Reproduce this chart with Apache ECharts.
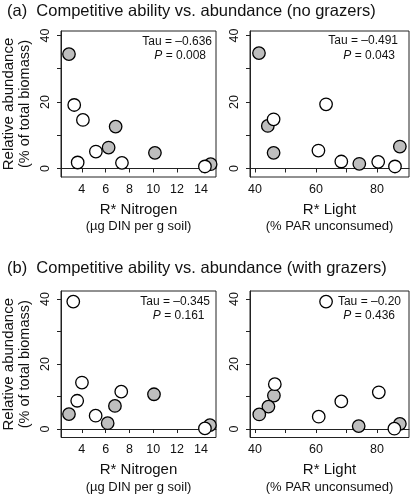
<!DOCTYPE html>
<html>
<head>
<meta charset="utf-8">
<script src="https://cdn.jsdelivr.net/npm/echarts@6/dist/echarts.min.js"></script>
<style>
html,body{margin:0;padding:0;background:#fff;}
#c{width:410px;height:498px;}
</style>
</head>
<body>
<div id="c"></div>
<script>
// ---- Data ----
// Panel (a): no grazers
const aNitroWhiteX = [3.36, 4.09, 5.18, 3.65, 7.37, 14.34];
const aNitroWhiteY = [19.1, 14.6, 5.1, 1.8, 1.7, 0.6];
const aNitroGreyX  = [2.92, 6.84, 6.25, 10.14, 14.82];
const aNitroGreyY  = [34.4, 12.6, 6.3, 4.7, 1.3];
const aLightWhiteX = [63.3, 46.1, 60.8, 68.3, 80.4, 85.9];
const aLightWhiteY = [19.3, 14.8, 5.4, 2.1, 2.0, 0.6];
const aLightGreyX  = [41.3, 44.2, 46.1, 74.2, 87.5];
const aLightGreyY  = [34.7, 12.8, 4.7, 1.4, 6.6];
// Panel (b): with grazers
const bNitroWhiteX = [3.28, 4.01, 3.61, 7.31, 5.16, 14.34];
const bNitroWhiteY = [39.2, 14.3, 8.7, 11.5, 4.1, 0.2];
const bNitroGreyX  = [2.92, 6.78, 6.17, 10.06, 14.76];
const bNitroGreyY  = [4.6, 7.1, 1.8, 10.7, 1.2];
const bLightWhiteX = [63.3, 46.5, 68.3, 80.6, 60.9, 85.7];
const bLightWhiteY = [39.2, 13.8, 8.5, 11.3, 3.8, 0.1];
const bLightGreyX  = [46.2, 44.4, 41.4, 74.0, 87.5];
const bLightGreyY  = [10.3, 6.9, 4.5, 0.9, 1.6];

const nitroTicks = [4, 6, 8, 10, 12, 14];
const lightTicks = [40, 50, 60, 70, 80];
const lightLabels = [40, 60, 80];
const yTicks = [0, 10, 20, 30, 40];
const yLabels = [0, 20, 40];

const titleA = '(a)  Competitive ability vs. abundance (no grazers)';
const titleB = '(b)  Competitive ability vs. abundance (with grazers)';
const stats = [
  ['–0.636', '0.008'],
  ['–0.491', '0.043'],
  ['–0.345', '0.161'],
  ['–0.20', '0.436']
];

const FONT = '"Liberation Sans", Arial, Helvetica, sans-serif';
const INK = '#111';

function zip(xs, ys) { return xs.map((x, i) => [x, ys[i]]); }

const grids = [
  {left: 61, top: 31, width: 155, height: 146},
  {left: 250, top: 31, width: 159, height: 146},
  {left: 61, top: 291, width: 155, height: 146.5},
  {left: 250, top: 291, width: 159, height: 146.5}
].map(g => Object.assign(g, {show: true, borderColor: '#222', borderWidth: 1, backgroundColor: 'transparent'}));

function xAxis(gi, isNitro) {
  return {
    type: 'value', gridIndex: gi,
    min: isNitro ? 2.25 : 38.36,
    max: isNitro ? 15.27 : 90.5,
    splitLine: {show: false},
    axisLine: {show: true, lineStyle: {color: '#222', width: 1}},
    axisTick: {show: true, length: 4, lineStyle: {color: '#222'},
      customValues: isNitro ? nitroTicks : lightTicks},
    axisLabel: {fontFamily: FONT, fontSize: 12.5, color: INK, margin: 6,
      customValues: isNitro ? nitroTicks : lightLabels},
    name: isNitro ? '{a|R* Nitrogen}\n{b|(µg DIN per g soil)}' : '{a|R* Light}\n{b|(% PAR unconsumed)}',
    nameLocation: 'middle',
    nameGap: 24,
    nameTextStyle: {
      rich: {
        a: {fontFamily: FONT, fontSize: 15, color: INK, lineHeight: 17},
        b: {fontFamily: FONT, fontSize: 13, color: INK, lineHeight: 17}
      }
    }
  };
}

function yAxis(gi, top, withName) {
  const ax = {
    type: 'value', gridIndex: gi,
    min: top ? -2.56 : -2.6,
    max: top ? 41.35 : 42.46,
    splitLine: {show: false},
    axisLine: {show: true, lineStyle: {color: '#222', width: 1}},
    axisTick: {show: true, length: 4, lineStyle: {color: '#222'}, customValues: yTicks},
    axisLabel: {fontFamily: FONT, fontSize: 12.5, color: INK, rotate: 90, margin: 9,
      customValues: yLabels}
  };
  if (withName) {
    ax.name = '{a|Relative abundance}\n{b|(% of total biomass)}';
    ax.nameLocation = 'middle';
    ax.nameRotate = 90;
    ax.nameGap = 28;
    ax.nameTextStyle = {
      rich: {
        a: {fontFamily: FONT, fontSize: 15, color: INK, lineHeight: 16},
        b: {fontFamily: FONT, fontSize: 14.5, color: INK, lineHeight: 16}
      }
    };
  }
  return ax;
}

function pts(name, gi, xs, ys, fill) {
  return {
    name: name, type: 'scatter', xAxisIndex: gi, yAxisIndex: gi,
    data: zip(xs, ys), symbol: 'circle', symbolSize: 12.5,
    itemStyle: {color: fill, borderColor: '#000', borderWidth: 1.3, opacity: 1},
    emphasis: {disabled: true}, silent: true
  };
}

const statPos = [
  {tx: 212, ty: 42, px: 206, py: 55.5},
  {tx: 398, ty: 41, px: 395, py: 55.5},
  {tx: 210, ty: 302, px: 204.5, py: 316},
  {tx: 401, ty: 302, px: 395, py: 316}
];
const graphics = [
  {type: 'text', left: 7, top: 3, style: {text: titleA, font: '16.5px ' + FONT, fill: INK}},
  {type: 'text', left: 7, top: 260, style: {text: titleB, font: '16.5px ' + FONT, fill: INK}}
];
statPos.forEach((p, i) => {
  graphics.push({type: 'text', x: p.tx, y: p.ty,
    style: {text: 'Tau = ' + stats[i][0], font: '12px ' + FONT, fill: INK, align: 'right', verticalAlign: 'middle'}});
  graphics.push({type: 'text', x: p.px, y: p.py,
    style: {text: '{i|P} = ' + stats[i][1], font: '12px ' + FONT, fill: INK, align: 'right', verticalAlign: 'middle',
      rich: {i: {fontStyle: 'italic', font: 'italic 12px ' + FONT, fill: INK}}}});
});

const option = {
  backgroundColor: '#fff',
  animation: false,
  grid: grids,
  xAxis: [xAxis(0, true), xAxis(1, false), xAxis(2, true), xAxis(3, false)],
  yAxis: [yAxis(0, true, true), yAxis(1, true, false), yAxis(2, false, true), yAxis(3, false, false)],
  series: [
    pts('a N grey', 0, aNitroGreyX, aNitroGreyY, '#bebebe'),
    pts('a N white', 0, aNitroWhiteX, aNitroWhiteY, '#ffffff'),
    pts('a L grey', 1, aLightGreyX, aLightGreyY, '#bebebe'),
    pts('a L white', 1, aLightWhiteX, aLightWhiteY, '#ffffff'),
    pts('b N grey', 2, bNitroGreyX, bNitroGreyY, '#bebebe'),
    pts('b N white', 2, bNitroWhiteX, bNitroWhiteY, '#ffffff'),
    pts('b L grey', 3, bLightGreyX, bLightGreyY, '#bebebe'),
    pts('b L white', 3, bLightWhiteX, bLightWhiteY, '#ffffff')
  ],
  graphic: graphics
};

const chart = echarts.init(document.getElementById('c'), null, {renderer: 'canvas'});
chart.setOption(option);
</script>
</body>
</html>
